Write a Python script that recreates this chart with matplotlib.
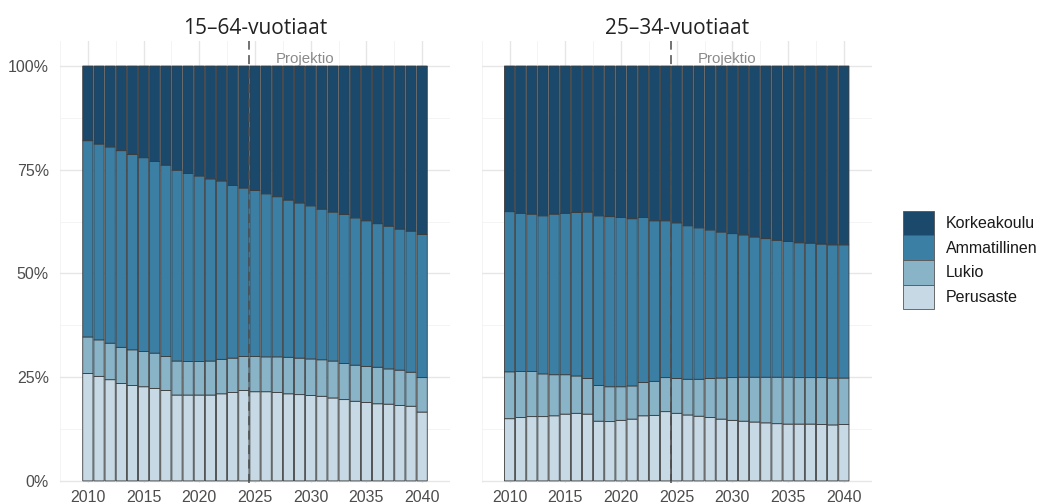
import matplotlib
matplotlib.use("Agg")
import matplotlib.pyplot as plt
from matplotlib.patches import Patch
import numpy as np

years = list(range(2010, 2041))
categories = ["Perusaste", "Lukio", "Ammatillinen", "Korkeakoulu"]
panel_titles = ["15\u201364-vuotiaat", "25\u201334-vuotiaat"]

# 15-64-vuotiaat (shares, %)
perus_1564 = [25.9, 25.2, 24.4, 23.5, 23.0, 22.7, 22.3, 21.8, 20.7, 20.7, 20.7, 20.7, 21.0, 21.3, 21.8, 21.5,
              21.5, 21.3, 21.0, 20.8, 20.6, 20.4, 20.0, 19.6, 19.2, 18.9, 18.6, 18.5, 18.2, 18.0, 16.6]
lukio_1564 = [8.8, 8.8, 8.8, 8.7, 8.6, 8.5, 8.5, 8.2, 8.2, 8.1, 8.1, 8.2, 8.3, 8.3, 8.2, 8.5,
              8.4, 8.6, 8.8, 8.8, 8.8, 8.8, 8.9, 8.7, 8.7, 8.7, 8.8, 8.5, 8.5, 8.2, 8.3]
ammat_1564 = [47.3, 47.2, 47.3, 47.4, 47.1, 46.7, 46.2, 46.1, 46.0, 45.3, 44.7, 43.9, 43.0, 41.6, 40.6, 40.0,
              39.3, 38.6, 37.9, 37.4, 36.9, 36.3, 35.9, 35.9, 35.5, 35.1, 34.6, 34.4, 34.0, 34.0, 34.5]
korkea_1564 = [18.0, 18.8, 19.5, 20.4, 21.3, 22.1, 23.0, 23.9, 25.1, 25.9, 26.5, 27.2, 27.7, 28.8, 29.4, 30.0,
               30.8, 31.5, 32.3, 33.0, 33.7, 34.5, 35.2, 35.8, 36.6, 37.3, 38.0, 38.6, 39.3, 39.8, 40.6]

# 25-34-vuotiaat (shares, %)
perus_2534 = [15.0, 15.3, 15.5, 15.5, 15.7, 16.1, 16.3, 16.1, 14.4, 14.3, 14.6, 14.9, 15.7, 15.8, 16.7, 16.3,
              15.9, 15.6, 15.3, 14.9, 14.6, 14.4, 14.2, 14.0, 13.8, 13.7, 13.7, 13.7, 13.6, 13.5, 13.6]
lukio_2534 = [11.3, 11.1, 10.9, 10.3, 9.9, 9.5, 9.0, 8.6, 8.6, 8.4, 8.1, 8.0, 8.0, 8.2, 8.2, 8.4,
              8.6, 8.9, 9.4, 9.9, 10.3, 10.6, 10.8, 11.0, 11.2, 11.3, 11.2, 11.2, 11.3, 11.3, 11.2]
ammat_2534 = [38.6, 38.1, 37.9, 38.1, 38.7, 38.9, 39.4, 40.1, 40.9, 41.0, 40.8, 40.3, 39.8, 38.7, 37.8, 37.5,
              37.0, 36.5, 35.8, 35.2, 34.7, 34.3, 33.8, 33.4, 33.0, 32.7, 32.5, 32.4, 32.2, 32.1, 32.1]
korkea_2534 = [35.1, 35.5, 35.7, 36.1, 35.7, 35.5, 35.3, 35.2, 36.1, 36.3, 36.5, 36.8, 36.5, 37.3, 37.3, 37.8,
               38.5, 39.0, 39.5, 40.0, 40.4, 40.7, 41.2, 41.6, 42.0, 42.3, 42.6, 42.7, 42.9, 43.1, 43.1]

projection_start = 2024.5
xticks = [2010, 2015, 2020, 2025, 2030, 2035, 2040]
yticks = [0, 0.25, 0.5, 0.75, 1.0]
ytick_labels = ["0%", "25%", "50%", "75%", "100%"]

colors = {"Perusaste": "#c7d9e4", "Lukio": "#89b4c8",
          "Ammatillinen": "#3c7fa5", "Korkeakoulu": "#1b496b"}

panels = [
    [perus_1564, lukio_1564, ammat_1564, korkea_1564],
    [perus_2534, lukio_2534, ammat_2534, korkea_2534],
]

W, H = 1040, 503
fig = plt.figure(figsize=(W / 100, H / 100), dpi=100)
tick_font = "Liberation Sans"
title_font = "Open Sans"

axes_px = [(60, 40.7, 390, 442.3), (481.7, 40.7, 390, 442.3)]
for i, (series, title) in enumerate(zip(panels, panel_titles)):
    x0, y0, w, h = axes_px[i]
    ax = fig.add_axes([x0 / W, 1 - (y0 + h) / H, w / W, h / H])
    yrs = np.array(years)
    bottom = np.zeros(len(yrs))
    tot = np.array([sum(s[j] for s in series) for j in range(len(yrs))])
    for cat, vals in zip(categories, series):
        share = np.array(vals, dtype=float) / tot
        ax.bar(yrs, share, bottom=bottom, width=0.92, color=colors[cat],
               edgecolor="#3a3a3a", linewidth=0.6, zorder=2, snap=False)
        bottom = bottom + share
    ax.axvline(projection_start, color="#4d4d4d", linestyle=(0, (5, 3)),
               linewidth=1.3, alpha=0.85, zorder=3)
    ax.text(2029.5, 1.016, "Projektio", ha="center", va="center", color="#8a8a8a",
            fontsize=10.8, family=tick_font, zorder=4)
    ax.set_xlim(2008.0, 2042.0)
    ax.set_ylim(-0.005, 1.061)
    ax.set_xticks(xticks)
    ax.set_xticks(np.arange(2007.5, 2042.6, 5), minor=True)
    ax.set_yticks(yticks)
    ax.set_yticks([0.125, 0.375, 0.625, 0.875], minor=True)
    ax.set_xticklabels([str(t) for t in xticks], fontsize=11.5, family=tick_font, color="#4d4d4d")
    if i == 0:
        ax.set_yticklabels(ytick_labels, fontsize=11.5, family=tick_font, color="#4d4d4d")
    else:
        ax.set_yticklabels([])
    ax.tick_params(axis="both", which="both", length=0)
    ax.tick_params(axis="x", pad=5)
    ax.tick_params(axis="y", pad=8)
    ax.grid(True, which="major", color="#e6e6e6", linewidth=1.0, zorder=0)
    ax.grid(True, which="minor", color="#f2f2f2", linewidth=0.6, zorder=0)
    ax.set_axisbelow(True)
    for s in ax.spines.values():
        s.set_visible(False)
    ax.set_title(title, fontsize=15, family=title_font, color="#222222", pad=5)

handles = [Patch(facecolor=colors[c], edgecolor="#555555", linewidth=0.6)
           for c in reversed(categories)]
fig.legend(handles, list(reversed(categories)), loc="upper left",
           bbox_to_anchor=(902.7 / W, 1 - 210.7 / H), frameon=False,
           prop={"family": tick_font, "size": 11.5}, handlelength=1.95,
           handleheight=2.0, labelspacing=0.0, handletextpad=0.75,
           borderpad=0, borderaxespad=0, labelcolor="#1a1a1a")

fig.savefig("out.png", dpi=100)
